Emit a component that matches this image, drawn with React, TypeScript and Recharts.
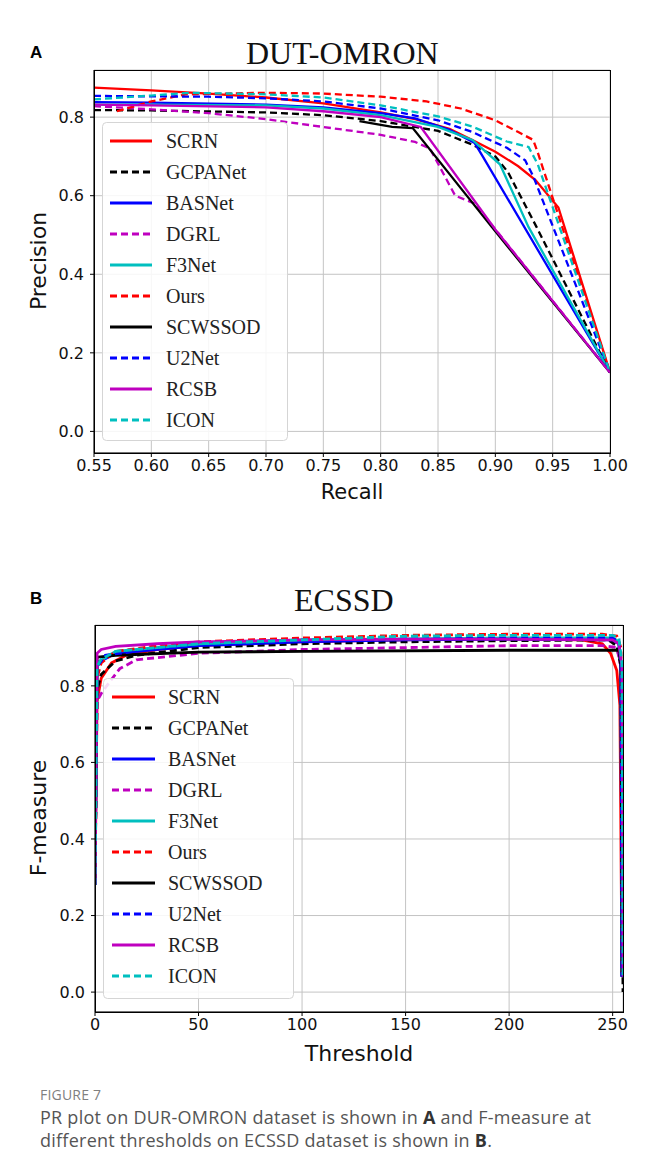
import React from 'react';
import { LineChart, Line, XAxis, YAxis, CartesianGrid } from 'recharts';

const seriesNames = ['SCRN', 'GCPANet', 'BASNet', 'DGRL', 'F3Net', 'Ours', 'SCWSSOD', 'U2Net', 'RCSB', 'ICON'];
const seriesColors = ['#ff0000', '#000000', '#0000ff', '#bf00bf', '#00bfbf', '#ff0000', '#000000', '#0000ff', '#bf00bf', '#00bfbf'];
const seriesDashed = [false, true, false, true, false, true, false, true, false, true];

const recallTicks = [0.55, 0.6, 0.65, 0.7, 0.75, 0.8, 0.85, 0.9, 0.95, 1.0];
const precisionTicks = [0, 0.2, 0.4, 0.6, 0.8];
const thresholdTicks = [0, 50, 100, 150, 200, 250];
const fmeasureTicks = [0, 0.2, 0.4, 0.6, 0.8];

// PR curves on DUT-OMRON: [recall, precision]
const prSCRN = [[0.55, 0.875], [0.6, 0.868], [0.65, 0.86], [0.7, 0.85], [0.75, 0.835], [0.8, 0.812], [0.83, 0.795], [0.86, 0.77], [0.88, 0.742], [0.9, 0.712], [0.92, 0.675], [0.935, 0.64], [0.955, 0.57], [1.0, 0.15]];
const prGCPANet = [[0.55, 0.818], [0.6, 0.817], [0.7, 0.812], [0.75, 0.805], [0.8, 0.79], [0.85, 0.765], [0.88, 0.73], [0.9, 0.7], [0.911, 0.66], [0.936, 0.52], [1.0, 0.15]];
const prBASNet = [[0.55, 0.838], [0.6, 0.837], [0.7, 0.832], [0.75, 0.825], [0.8, 0.81], [0.83, 0.797], [0.86, 0.768], [0.882, 0.734], [0.889, 0.7], [1.0, 0.15]];
const prDGRL = [[0.55, 0.828], [0.6, 0.82], [0.65, 0.81], [0.7, 0.795], [0.75, 0.775], [0.8, 0.755], [0.83, 0.737], [0.843, 0.72], [0.865, 0.6], [0.882, 0.58], [1.0, 0.15]];
const prF3Net = [[0.55, 0.832], [0.6, 0.832], [0.7, 0.83], [0.75, 0.822], [0.8, 0.805], [0.85, 0.775], [0.88, 0.742], [0.904, 0.68], [0.929, 0.52], [1.0, 0.15]];
const prOurs = [[0.57, 0.815], [0.6, 0.84], [0.63, 0.858], [0.7, 0.862], [0.75, 0.86], [0.8, 0.852], [0.84, 0.84], [0.87, 0.822], [0.9, 0.792], [0.92, 0.762], [0.933, 0.742], [0.937, 0.71], [1.0, 0.15]];
const prSCWSSOD = [[0.7815, 0.79], [0.81, 0.775], [0.828, 0.772], [0.897, 0.52], [1.0, 0.15]];
const prU2Net = [[0.55, 0.854], [0.6, 0.853], [0.65, 0.852], [0.7, 0.848], [0.75, 0.84], [0.8, 0.822], [0.85, 0.792], [0.88, 0.762], [0.91, 0.722], [0.926, 0.69], [0.933, 0.65], [1.0, 0.15]];
const prRCSB = [[0.55, 0.832], [0.6, 0.83], [0.7, 0.825], [0.75, 0.815], [0.8, 0.8], [0.835, 0.775], [0.9, 0.514], [1.0, 0.15]];
const prICON = [[0.55, 0.845], [0.6, 0.855], [0.634, 0.862], [0.7, 0.858], [0.75, 0.85], [0.8, 0.83], [0.85, 0.802], [0.88, 0.776], [0.91, 0.738], [0.929, 0.724], [0.937, 0.68], [1.0, 0.15]];

// F-measure on ECSSD: [threshold, F]
const fmSCRN = [[0, 0.28], [1, 0.76], [3, 0.82], [8, 0.86], [15, 0.88], [30, 0.895], [50, 0.905], [100, 0.915], [150, 0.92], [200, 0.922], [235, 0.92], [245, 0.91], [249, 0.885], [252, 0.84], [253.5, 0.75], [254.5, 0.05]];
const fmGCPANet = [[0, 0.28], [1, 0.79], [3, 0.83], [10, 0.865], [20, 0.88], [50, 0.9], [100, 0.91], [150, 0.915], [200, 0.918], [248, 0.92], [252, 0.905], [254, 0.85], [255, 0.0]];
const fmBASNet = [[0, 0.28], [1, 0.86], [10, 0.885], [50, 0.905], [100, 0.915], [150, 0.92], [200, 0.922], [250, 0.92], [253, 0.91], [254, 0.85], [254.5, 0.04]];
const fmDGRL = [[0, 0.28], [1, 0.76], [3, 0.78], [7, 0.81], [12, 0.845], [20, 0.868], [50, 0.885], [100, 0.895], [150, 0.9], [200, 0.905], [245, 0.905], [252, 0.9], [254, 0.85], [254.5, 0.04]];
const fmF3Net = [[0, 0.28], [1, 0.86], [10, 0.89], [50, 0.91], [100, 0.92], [200, 0.925], [250, 0.925], [253, 0.915], [254, 0.85], [254.5, 0.04]];
const fmOurs = [[0, 0.28], [1, 0.82], [3, 0.86], [10, 0.89], [30, 0.905], [50, 0.915], [100, 0.925], [150, 0.932], [200, 0.935], [245, 0.935], [252, 0.93], [254, 0.9], [254.5, 0.05]];
const fmSCWSSOD = [[0, 0.28], [1, 0.875], [10, 0.88], [50, 0.888], [100, 0.89], [200, 0.893], [253, 0.893], [254, 0.85], [254.5, 0.04]];
const fmU2Net = [[0, 0.28], [1, 0.85], [5, 0.88], [50, 0.912], [100, 0.92], [200, 0.925], [250, 0.925], [253, 0.915], [254, 0.86], [254.5, 0.04]];
const fmRCSB = [[0, 0.28], [1, 0.885], [3, 0.895], [10, 0.903], [30, 0.91], [50, 0.915], [100, 0.92], [150, 0.922], [200, 0.922], [250, 0.92], [253, 0.91], [254.5, 0.85], [255, 0.04]];
const fmICON = [[0, 0.28], [1, 0.85], [3, 0.87], [10, 0.89], [50, 0.91], [100, 0.92], [150, 0.93], [200, 0.932], [250, 0.932], [253, 0.925], [254.5, 0.86], [255, 0.04]];

const toPts = (arr: number[][]) => arr.map(([x, y]) => ({ x, y }));
const prSeries = [prSCRN, prGCPANet, prBASNet, prDGRL, prF3Net, prOurs, prSCWSSOD, prU2Net, prRCSB, prICON].map(toPts);
const fmSeries = [fmSCRN, fmGCPANet, fmBASNet, fmDGRL, fmF3Net, fmOurs, fmSCWSSOD, fmU2Net, fmRCSB, fmICON].map(toPts);

const tickStyle = { fontFamily: 'DejaVu Sans', fontSize: 16, fill: '#111' };
const DASH = '7 4';

function Legend({ x, y, w, h, firstY, step, sampleX0, sampleX1, textX }: any) {
  return (
    <g>
      <rect x={x} y={y} width={w} height={h} rx={4} fill="#fff" fillOpacity={0.85} stroke="#d5d5d5" strokeWidth={1} />
      {seriesNames.map((n, i) => {
        const cy = firstY + i * step;
        return (
          <g key={n}>
            <line x1={sampleX0} x2={sampleX1} y1={cy} y2={cy} stroke={seriesColors[i]} strokeWidth={2.8} strokeDasharray={seriesDashed[i] ? DASH : undefined} />
            <text x={textX} y={cy + 7} fontFamily="Liberation Serif" fontSize={20} fill="#222">{n}</text>
          </g>
        );
      })}
    </g>
  );
}

export default function App() {
  return (
    <div style={{ position: 'relative', width: 645, height: 1171, margin: -8, background: '#fff', overflow: 'hidden' }}>
      <div style={{ position: 'absolute', left: 0, top: 0 }}>
        <LineChart width={645} height={520} margin={{ top: 70, right: 35, bottom: 37, left: 0 }}>
          <CartesianGrid stroke="#c4c4c4" strokeWidth={1} />
          <XAxis dataKey="x" type="number" domain={[0.55, 1.0]} ticks={recallTicks} allowDataOverflow height={30}
            tickFormatter={(v: number) => v.toFixed(2)} tick={tickStyle} tickSize={4} tickMargin={3}
            stroke="#000" tickLine={{ stroke: '#000' }} />
          <YAxis type="number" domain={[-0.055, 0.92]} ticks={precisionTicks} allowDataOverflow width={94}
            tickFormatter={(v: number) => v.toFixed(1)} tick={tickStyle} tickSize={4} tickMargin={6}
            stroke="#000" tickLine={{ stroke: '#000' }} />
          {prSeries.map((d, i) => (
            <Line key={seriesNames[i]} data={d} dataKey="y" type="linear" stroke={seriesColors[i]} strokeWidth={2.3}
              strokeDasharray={seriesDashed[i] ? DASH : undefined} dot={false} activeDot={false} isAnimationActive={false} />
          ))}
        </LineChart>
      </div>
      <div style={{ position: 'absolute', left: 0, top: 560 }}>
        <LineChart width={645} height={520} margin={{ top: 65, right: 22, bottom: 38, left: 0 }}>
          <CartesianGrid stroke="#c4c4c4" strokeWidth={1} />
          <XAxis dataKey="x" type="number" domain={[0, 255]} ticks={thresholdTicks} allowDataOverflow height={30}
            tick={tickStyle} tickSize={4} tickMargin={3} stroke="#000" tickLine={{ stroke: '#000' }} />
          <YAxis type="number" domain={[-0.052, 0.959]} ticks={fmeasureTicks} allowDataOverflow width={95}
            tickFormatter={(v: number) => v.toFixed(1)} tick={tickStyle} tickSize={4} tickMargin={6}
            stroke="#000" tickLine={{ stroke: '#000' }} />
          {fmSeries.map((d, i) => (
            <Line key={seriesNames[i]} data={d} dataKey="y" type="linear" stroke={seriesColors[i]} strokeWidth={2.8}
              strokeDasharray={seriesDashed[i] ? DASH : undefined} dot={false} activeDot={false} isAnimationActive={false} />
          ))}
        </LineChart>
      </div>
      <svg width={645} height={1171} style={{ position: 'absolute', left: 0, top: 0, pointerEvents: 'none' }}>
        <line x1={6.5} x2={6.5} y1={0} y2={1171} stroke="#999" strokeWidth={1} />
        <text x={30} y={58} fontFamily="Liberation Sans" fontWeight="bold" fontSize={17} fill="#000">A</text>
        <text x={30} y={604} fontFamily="Liberation Sans" fontWeight="bold" fontSize={17} fill="#000">B</text>
        <text x={246} y={64} fontFamily="Liberation Serif" fontSize={32} fill="#111">DUT-OMRON</text>
        <text x={294} y={611} fontFamily="Liberation Serif" fontSize={32} fill="#111">ECSSD</text>
        <rect x={94.5} y={70.5} width={516} height={383} fill="none" stroke="#000" strokeWidth={1} />
        <rect x={95.5} y={625.5} width={528} height={387} fill="none" stroke="#000" strokeWidth={1} />
        <text x={352} y={499} textAnchor="middle" fontFamily="DejaVu Sans" fontSize={21} fill="#111">Recall</text>
        <text x={359} y={1061} textAnchor="middle" fontFamily="DejaVu Sans" fontSize={22} fill="#111">Threshold</text>
        <text transform="translate(46,261) rotate(-90)" textAnchor="middle" fontFamily="DejaVu Sans" fontSize={22} fill="#111">Precision</text>
        <text transform="translate(46,818) rotate(-90)" textAnchor="middle" fontFamily="DejaVu Sans" fontSize={22} fill="#111">F-measure</text>
        <Legend x={102.5} y={122.5} w={185} h={318} firstY={141} step={31} sampleX0={110} sampleX1={152} textX={166} />
        <Legend x={103.5} y={678.5} w={190} h={320} firstY={697} step={31} sampleX0={112} sampleX1={155} textX={168} />
      </svg>
      <div style={{ position: 'absolute', left: 40, top: 1085, fontFamily: 'Open Sans', fontSize: 14, color: '#808080', letterSpacing: 0.2 }}>FIGURE 7</div>
      <div style={{ position: 'absolute', left: 40, top: 1106, width: 600, fontFamily: 'Open Sans', fontSize: 18, lineHeight: '23px', color: '#555', letterSpacing: 0.25, whiteSpace: 'nowrap' }}>
        PR plot on DUR-OMRON dataset is shown in <b style={{ color: '#333' }}>A</b> and F-measure at<br />
        different thresholds on ECSSD dataset is shown in <b style={{ color: '#333' }}>B</b>.
      </div>
    </div>
  );
}
